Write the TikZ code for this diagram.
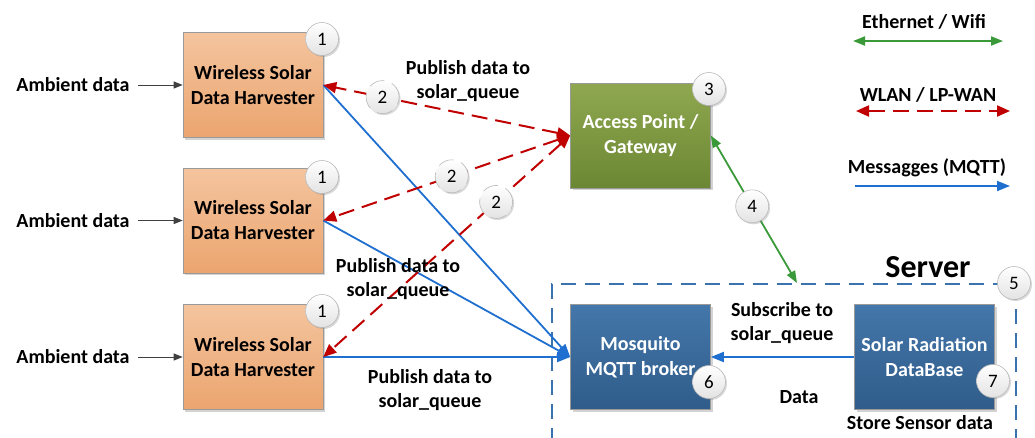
\documentclass[tikz,border=0pt]{standalone}
\usepackage{fontspec}
\setmainfont{Carlito}
\usetikzlibrary{arrows.meta,shadows}
\definecolor{redc}{HTML}{C00000}
\definecolor{bluec}{HTML}{1F6FD1}
\definecolor{greenc}{HTML}{3A9A3A}
\definecolor{srvblue}{HTML}{3A73B0}
\definecolor{orA}{HTML}{F4C49E}
\definecolor{orB}{HTML}{EBA56F}
\definecolor{grA}{HTML}{8FA850}
\definecolor{grB}{HTML}{6C8733}
\definecolor{blA}{HTML}{4477AA}
\definecolor{blB}{HTML}{2F5C8A}
\definecolor{bordc}{HTML}{9A9A9A}
\begin{document}
\begin{tikzpicture}[x=1pt,y=-1pt,
  lbl/.style={font=\fontsize{20}{24}\selectfont\bfseries, align=center, inner sep=2pt},
  box/.style={minimum width=140pt, minimum height=105pt, draw=bordc, line width=0.6pt,
    font=\fontsize{20}{25}\selectfont\bfseries, align=center,
    drop shadow={shadow xshift=2pt, shadow yshift=-2pt, opacity=0.35}},
  harv/.style={box, top color=orA, bottom color=orB},
  apbox/.style={box, top color=grA, bottom color=grB, text=white},
  sbox/.style={box, top color=blA, bottom color=blB, text=white},
  num/.style={circle, minimum size=33pt, inner sep=0pt, draw=gray!55, line width=0.6pt,
    top color=white, bottom color=gray!22, font=\fontsize{19}{19}\selectfont,
    drop shadow={shadow xshift=1.5pt, shadow yshift=-1.5pt, opacity=0.3}},
  wlan/.style={draw=redc, line width=2pt, dash pattern=on 16pt off 8pt,
    {Triangle[length=13pt,width=11pt]}-{Triangle[length=13pt,width=11pt]}},
  mqtt/.style={draw=bluec, line width=1.8pt, -{Triangle[length=13pt,width=10pt]}},
  eth/.style={draw=greenc, line width=1.8pt, {Triangle[length=12pt,width=9pt]}-{Triangle[length=12pt,width=9pt]}},
  amb/.style={draw=black!75, line width=1pt, -{Triangle[length=9pt,width=7pt]}, shorten <=6pt}
]
\useasboundingbox (0,0) rectangle (1035,437);

% server dashed frame
\node[draw=srvblue, line width=2pt, dash pattern=on 15pt off 9pt, minimum width=464pt, minimum height=200pt, anchor=north west, inner sep=0pt] (srv) at (551,283) {};
\coordinate (srvtop) at (797,283);
\node[font=\fontsize{32}{32}\selectfont\bfseries] (srvlbl) at (928,267) {Server};

% boxes
\node[harv] (h1) at (253,85) {Wireless Solar\\Data Harvester};
\node[harv] (h2) at (253,220.5) {Wireless Solar\\Data Harvester};
\node[harv] (h3) at (253,357) {Wireless Solar\\Data Harvester};
\node[apbox] (ap) at (640.5,135.5) {Access Point /\\Gateway};
\node[sbox] (mq) at (640.5,357) {Mosquito\\MQTT broker};
\node[sbox] (db) at (924.5,357) {Solar Radiation\\DataBase};

% ambient data
\node[lbl] (a1) at (73,85) {Ambient data};
\node[lbl] (a2) at (73,220.5) {Ambient data};
\node[lbl] (a3) at (73,357) {Ambient data};
\draw[amb] (a1.east) -- (h1.west);
\draw[amb] (a2.east) -- (h2.west);
\draw[amb] (a3.east) -- (h3.west);

% MQTT publish lines
\draw[mqtt] (h1.east) -- (mq.west);
\draw[mqtt] (h2.east) -- (mq.west);
\draw[mqtt] (h3.east) -- (mq.west);
\draw[mqtt] (db.west) -- (mq.east);

% WLAN lines
\draw[wlan] (ap.west) -- node[num, pos=0.76] (c2a) {2} (h1.east);
\draw[wlan] (ap.west) -- node[num, pos=0.48] (c2b) {2} (h2.east);
\draw[wlan] (ap.west) -- node[num, pos=0.30] (c2c) {2} (h3.east);

% Ethernet
\draw[eth] (ap.east) -- node[num, pos=0.48] (c4) {4} (srvtop);

% labels
\node[lbl] (p1) at (468,81) {Publish data to\\solar\_queue};
\node[lbl] (p2) at (398,279) {Publish data to\\solar\_queue};
\node[lbl] (p3) at (430,390) {Publish data to\\solar\_queue};
\node[lbl] (sub) at (782,323) {Subscribe to\\solar\_queue};
\node[lbl] (dat) at (799,397) {Data};
\node[lbl] (store) at (920,423) {Store Sensor data};

% numbers
\node[num] (n1a) at (322,39) {1};
\node[num] (n1b) at (322,177) {1};
\node[num] (n1c) at (322,311) {1};
\node[num] (n3) at (709,89) {3};
\node[num] (n5) at (1014,283) {5};
\node[num] (n6) at (709,382) {6};
\node[num] (n7) at (993,381) {7};

% legend
\node[lbl] (le) at (924,22) {Ethernet / Wifi};
\node[lbl] (lw) at (928,95) {WLAN / LP-WAN};
\node[lbl] (lm) at (927,168) {Messagges (MQTT)};
\coordinate (le1) at (853,41); \coordinate (le2) at (1003,41);
\coordinate (lw1) at (856,111); \coordinate (lw2) at (1010,111);
\coordinate (lm1) at (855,186); \coordinate (lm2) at (1010,186);
\draw[eth] (le1) -- (le2);
\draw[wlan] (lw1) -- (lw2);
\draw[mqtt] (lm1) -- (lm2);
\end{tikzpicture}
\end{document}
